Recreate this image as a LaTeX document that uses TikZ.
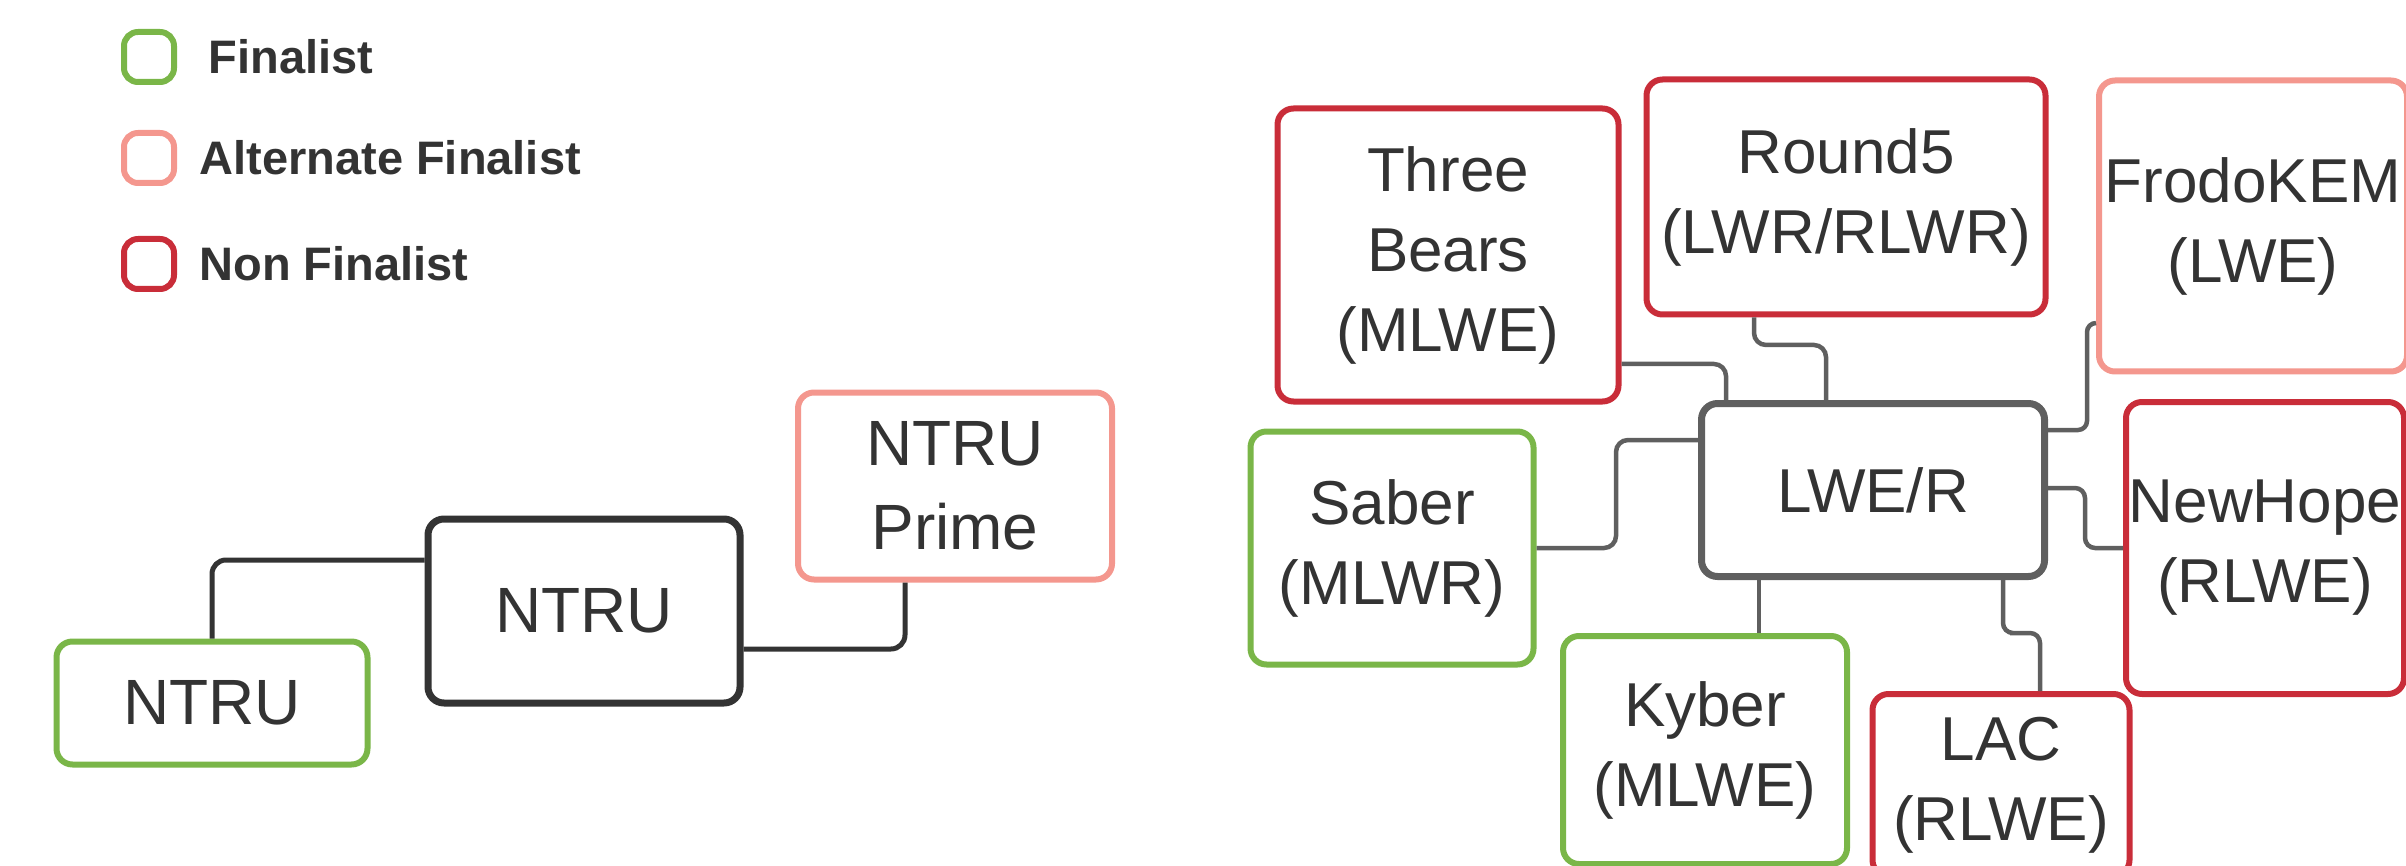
\documentclass[tikz,border=0pt]{standalone}
\usepackage{fontspec}
\setmainfont{Liberation Sans}
\definecolor{fin}{HTML}{7AB648}
\definecolor{alt}{HTML}{F4978E}
\definecolor{non}{HTML}{C92D39}
\definecolor{hubgray}{HTML}{5F5F5F}
\definecolor{ink}{HTML}{333333}
\tikzset{
  box/.style={draw, rounded corners=16pt, line width=6pt, align=center,
    inner sep=0pt, text=ink, fill=white, font=\fontsize{62}{80}\selectfont},
  finbox/.style={box, draw=fin},
  altbox/.style={box, draw=alt},
  nonbox/.style={box, draw=non},
  key/.style={draw, rounded corners=14pt, line width=6pt, minimum width=50pt, minimum height=50pt, inner sep=0pt},
  keytext/.style={anchor=west, text=ink, font=\bfseries\fontsize{47}{52}\selectfont},
  link/.style={draw=hubgray, line width=4.5pt, rounded corners=12pt},
  linkdark/.style={draw=ink, line width=5pt, rounded corners=14pt},
}
\begin{document}
\begin{tikzpicture}[x=1pt, y=-1pt]
\useasboundingbox (0,0) rectangle (2406,866);

% legend
\node[key, draw=fin] (k1) at (149,57) {};
\node[keytext] (k1t) at (205,57) {Finalist};
\node[key, draw=alt] (k2) at (149,158) {};
\node[keytext] (k2t) at (196,158) {Alternate Finalist};
\node[key, draw=non] (k3) at (149,264) {};
\node[keytext] (k3t) at (196,264) {Non Finalist};

% NTRU family
\node[finbox, minimum width=311pt, minimum height=123pt, font=\fontsize{64}{84}\selectfont] (ntruF) at (212,703) {NTRU};
\node[box, draw=ink, line width=7pt, minimum width=312pt, minimum height=184pt, font=\fontsize{64}{84}\selectfont] (ntruC) at (584,611) {NTRU};
\node[altbox, minimum width=314pt, minimum height=187pt, font=\fontsize{64}{84}\selectfont] (prime) at (955,486) {NTRU\\Prime};

\draw[linkdark] (ntruF.north) |- (ntruC.west |- 0,560);
\draw[linkdark] (ntruC.east |- 0,649) -| (prime.south -| 905,0);

% LWE / LWR family
\node[box, draw=hubgray, line width=7pt, minimum width=343pt, minimum height=173pt] (lwe) at (1873,490) {LWE/R};
\node[nonbox, minimum width=341pt, minimum height=293pt] (tb) at (1448,255) {Three\\Bears\\(MLWE)};
\node[nonbox, minimum width=399pt, minimum height=235pt] (r5) at (1846,197) {Round5\\(LWR/RLWR)};
\node[altbox, minimum width=308pt, minimum height=291pt] (frodo) at (2253,226) {FrodoKEM\\(LWE)};
\node[nonbox, minimum width=278pt, minimum height=292pt] (nh) at (2265,548) {NewHope\\(RLWE)};
\node[finbox, minimum width=283pt, minimum height=233pt] (saber) at (1392,548) {Saber\\(MLWR)};
\node[finbox, minimum width=284pt, minimum height=228pt] (kyber) at (1705,750) {Kyber\\(MLWE)};
\node[nonbox, minimum width=257pt, minimum height=182pt] (lac) at (2001,785) {LAC\\(RLWE)};

\draw[link] (tb.east |- 0,364) -| (lwe.north -| 1726,0);
\draw[link] (r5.south -| 1754,0) |- (1790,345) -| (lwe.north -| 1826,0);
\draw[link, rounded corners=9pt] (frodo.west |- 0,323) -| (2087,380) |- (lwe.east |- 0,430);
\draw[link] (saber.east |- 0,548) -| (1616,500) |- (lwe.west |- 0,440);
\draw[link, rounded corners=10pt] (lwe.east |- 0,488) -| (2085,520) |- (nh.west |- 0,548);
\draw[link] (lwe.south -| 1759,0) -- (kyber.north -| 1759,0);
\draw[link, rounded corners=10pt] (lwe.south -| 2003,0) |- (2020,633) -| (lac.north -| 2040,0);
\end{tikzpicture}
\end{document}
